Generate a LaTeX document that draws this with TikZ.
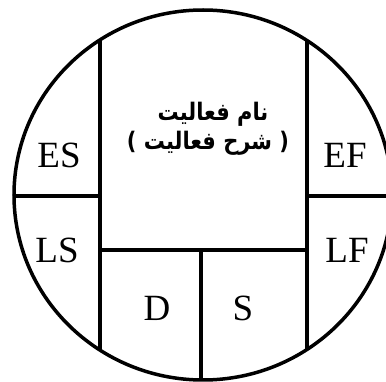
\documentclass[tikz,border=0pt]{standalone}
\usepackage{fontspec}
\setmainfont{Liberation Serif}
\newfontfamily\arabicfont[Script=Arabic]{DejaVu Sans}
\TeXXeTstate=1
\begin{document}
\begin{tikzpicture}[x=1pt,y=-1pt,line width=3.5pt,
  lbl/.style={font=\fontsize{37}{37}\selectfont, inner sep=0pt},
  fa/.style={font=\arabicfont\bfseries\fontsize{21}{26}\selectfont, inner sep=0pt, anchor=base, yscale=1.15}]
\useasboundingbox (0,0) rectangle (386,382);
\clip (0,0) rectangle (386,382);
\fill[white] (0,0) rectangle (386,382);
\begin{scope}
  \clip (203,195) ellipse [x radius=189pt, y radius=185pt];
  \draw (100,-10) -- (100,400);
  \draw (307,-10) -- (307,400);
  \draw (-10,196) -- (100,196);
  \draw (307,196) -- (400,196);
  \draw (100,250) -- (307,250);
  \draw (201,250) -- (201,400);
\end{scope}
\draw (203,195) ellipse [x radius=189pt, y radius=185pt];
\node[lbl] (es) at (59,155) {ES};
\node[lbl] (ef) at (345,155) {EF};
\node[lbl] (ls) at (57,250) {LS};
\node[lbl] (lf) at (347,250) {LF};
\node[lbl] (d) at (157,308) {D};
\node[lbl] (s) at (243,308) {S};
\node[fa] (name) at (213,121) {\beginR نام فعالیت\endR};
\node[fa] (desc) at (208,150) {\beginR ( شرح فعالیت )\endR};
\end{tikzpicture}
\end{document}
